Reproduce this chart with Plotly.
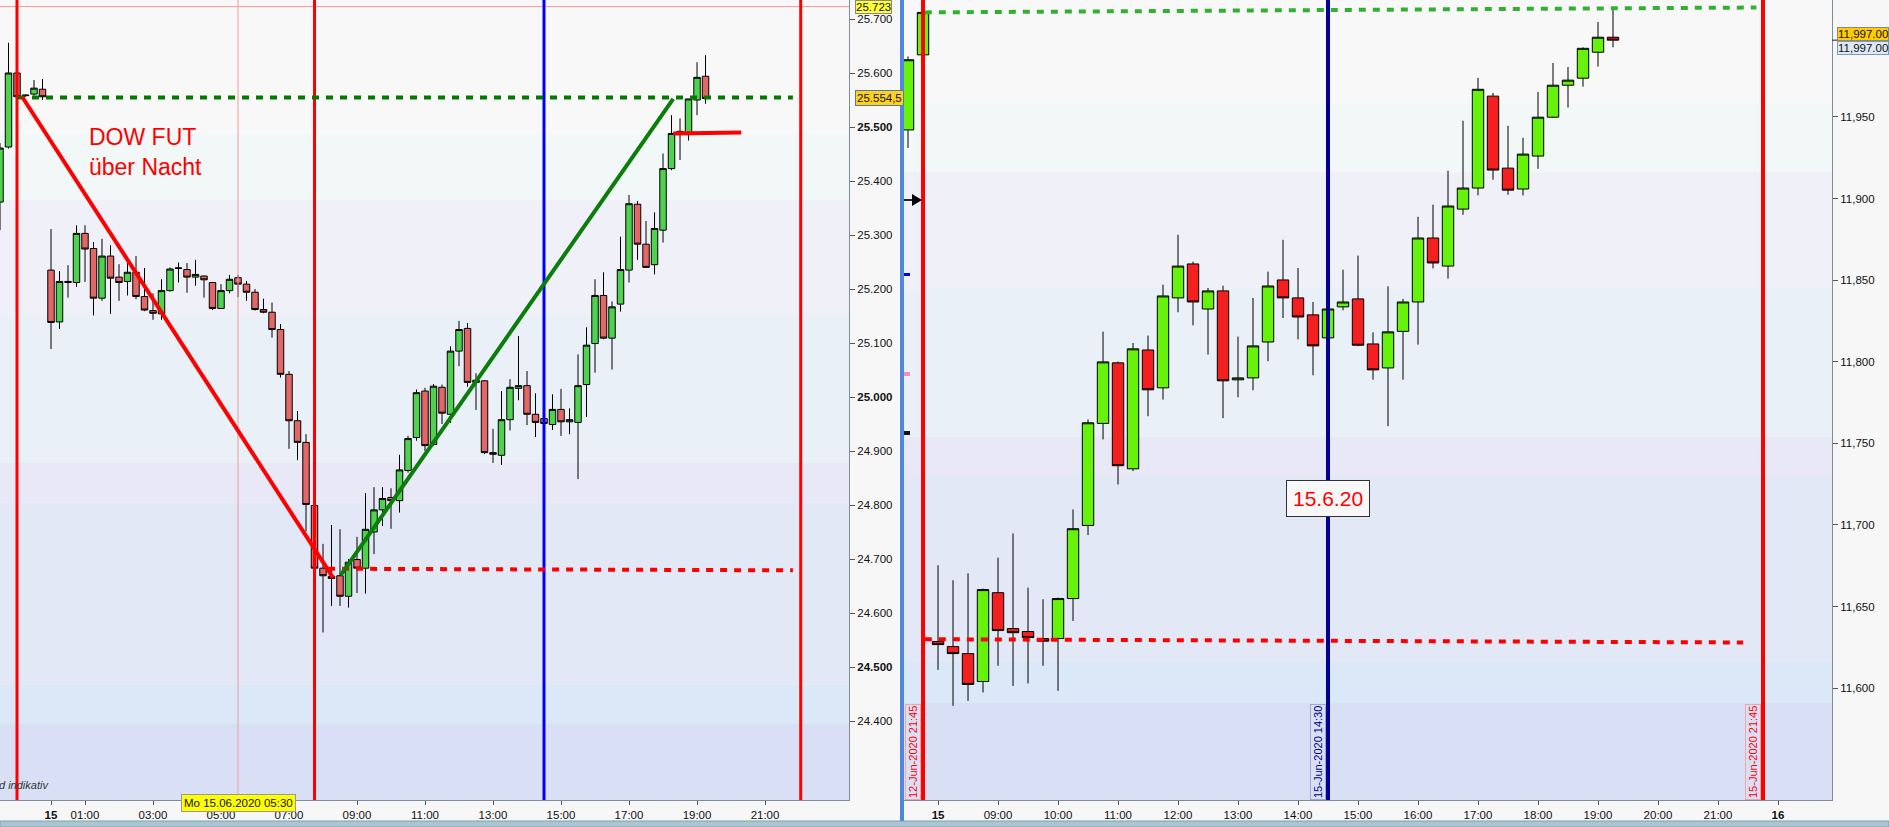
import plotly.graph_objects as go

W, H = 1889, 827

# ---------------------------------------------------------------------------
# left panel: DOW future, 15-min candles
# x = hour of Mon 15.06.2020 (weekend cut out, the 6 candles < 0 are Friday's last)
LEFT_X = [-1.5 + 0.25 * i for i in range(6)] + [0.25 * i for i in range(78)]
LEFT_OPEN = [25361, 25463, 25600, 25558, 25561, 25570,
             25235, 25139, 25212, 25212, 25303, 25275, 25183, 25261, 25222, 25214,
             25231, 25186, 25160, 25154, 25197, 25238, 25236, 25222, 25224, 25212,
             25164, 25197, 25221, 25209, 25194, 25162, 25157, 25125, 25042, 24956,
             24916, 24799, 24683, 24668, 24669, 24631, 24699, 24683, 24750, 24791,
             24814, 24808, 24864, 24925, 25011, 24912, 25018, 24968, 25085, 25127,
             25031, 25030, 24897, 24892, 24958, 25016, 25021, 24968, 24960, 24949,
             24977, 24954, 24953, 25023, 25099, 25188, 25109, 25172, 25235, 25357,
             25283, 25245, 25309, 25423, 25488, 25490, 25550, 25594]
LEFT_HIGH = [25470, 25656, 25602, 25560, 25587, 25589,
             25311, 25233, 25244, 25318, 25318, 25287, 25293, 25281, 25246, 25248,
             25261, 25239, 25192, 25218, 25240, 25249, 25248, 25254, 25225, 25213,
             25209, 25226, 25226, 25215, 25200, 25182, 25175, 25135, 25048, 24974,
             24931, 24800, 24728, 24763, 24755, 24700, 24741, 24822, 24833, 24833,
             24831, 24893, 24928, 25014, 25017, 25024, 25023, 25094, 25141, 25137,
             25044, 25031, 24941, 25011, 25033, 25113, 25048, 25007, 24962, 25005,
             25015, 24979, 25079, 25129, 25218, 25231, 25177, 25297, 25374, 25363,
             25326, 25342, 25451, 25522, 25516, 25552, 25620, 25633]
LEFT_LOW = [25309, 25460, 25554, 25556, 25558, 25550,
            25089, 25126, 25184, 25204, 25213, 25151, 25178, 25154, 25178, 25188,
            25181, 25159, 25143, 25143, 25195, 25212, 25193, 25206, 25184, 25161,
            25163, 25192, 25185, 25178, 25160, 25155, 25110, 25036, 24904, 24883,
            24751, 24680, 24564, 24613, 24613, 24610, 24637, 24636, 24709, 24761,
            24756, 24786, 24860, 24919, 24900, 24910, 24950, 24952, 25057, 25019,
            24976, 24894, 24878, 24874, 24938, 24994, 24948, 24926, 24948, 24939,
            24928, 24931, 24848, 24963, 25045, 25107, 25051, 25158, 25212, 25254,
            25240, 25227, 25286, 25420, 25439, 25475, 25522, 25543]
LEFT_CLOSE = [25461, 25600, 25556, 25559, 25572, 25556,
              25138, 25214, 25214, 25303, 25274, 25183, 25261, 25220, 25212, 25231,
              25186, 25161, 25155, 25197, 25237, 25239, 25222, 25227, 25217, 25164,
              25197, 25218, 25209, 25194, 25162, 25157, 25125, 25042, 24956, 24916,
              24801, 24683, 24669, 24664, 24631, 24694, 24683, 24755, 24791, 24812,
              24808, 24865, 24923, 25008, 24910, 25020, 24970, 25085, 25125, 25027,
              25027, 24897, 24894, 24958, 25018, 25021, 24968, 24953, 24951, 24977,
              24954, 24958, 25021, 25096, 25188, 25109, 25167, 25236, 25358, 25283,
              25240, 25312, 25423, 25488, 25492, 25552, 25592, 25553]

LEFT_XTICKS = [0, 1, 3, 5, 7, 9, 11, 13, 15, 17, 19, 21]
LEFT_XTEXT = ["<b>15</b>", "01:00", "03:00", "05:00", "07:00", "09:00", "11:00",
              "13:00", "15:00", "17:00", "19:00", "21:00"]
LEFT_YTICKS = list(range(24400, 25701, 100))

# drawings on the left chart
LEFT_RED_VLINES = [-1.0, 7.75, 22.05]
LEFT_BLUE_VLINE = 14.5
LEFT_LEVEL_HIGH = 25554.5
LEFT_LEVEL_LOW = 24682
LEFT_CROSS = (5.5, 25723)

# ---------------------------------------------------------------------------
# right panel: DAX future, 15-min candles, x = hour of day (08:00-22:00 session)
RIGHT_X = [7.5, 7.75] + [8 + 0.25 * i for i in range(46)]
RIGHT_OPEN = [11942, 11988,
              11628.6, 11625.5, 11621.2, 11604.1, 11658.5, 11636.5, 11634.7, 11630.4,
              11630.4, 11654.9, 11699.7, 11762.2, 11799.3, 11734.4, 11807.2, 11784,
              11839.1, 11859.9, 11832.3, 11843.4, 11788.9, 11790.1, 11812.1, 11850.1,
              11839.1, 11828.7, 11814.6, 11833.6, 11838.5, 11810.9, 11796.2, 11818.6,
              11836.6, 11875.8, 11858.6, 11893.5, 11906.4, 11962.7, 11918.6, 11905.8,
              11926, 11949.8, 11969.4, 11973.7, 11989.6, 11998.8]
RIGHT_HIGH = [11987, 12015,
              11675.3, 11666.1, 11670.4, 11661, 11680, 11694.8, 11661.6, 11654.5,
              11655.5, 11709.5, 11764.6, 11818.4, 11800.1, 11811.5, 11816, 11847.2,
              11877.8, 11861.3, 11845.2, 11846.6, 11815.4, 11839.1, 11855.2, 11874.7,
              11857.4, 11836.6, 11832.5, 11856.4, 11865, 11818, 11846.2, 11838.5,
              11888.8, 11896.2, 11917, 11947.6, 11973.9, 11964.7, 11944.5, 11937.2,
              11965.3, 11983, 11980.6, 11992.6, 12008.1, 12015.5]
RIGHT_LOW = [11931, 11987,
             11611.2, 11589.2, 11592.2, 11597.4, 11613.7, 11601.4, 11602.9, 11613.7,
             11598.4, 11641.2, 11693.8, 11752.4, 11724.8, 11733, 11766.6, 11776.8,
             11830.3, 11822.3, 11804.4, 11765.4, 11778.2, 11782.5, 11800.3, 11826.8,
             11813.7, 11791.7, 11814, 11831.5, 11809.5, 11789, 11760.5, 11789,
             11810.5, 11857.2, 11850.9, 11890, 11901.9, 11911.5, 11902.3, 11901.9,
             11918.2, 11949.5, 11955.7, 11968.5, 11980.8, 11992.6]
RIGHT_CLOSE = [11985, 12014,
               11626.7, 11621.2, 11602.3, 11660.4, 11635.3, 11634, 11631, 11628.8,
               11654.9, 11697.7, 11762.6, 11799.9, 11736.3, 11807.9, 11782.8, 11840.3,
               11858.6, 11836.6, 11843.4, 11788.3, 11790.1, 11809.7, 11846.4, 11839.1,
               11827.4, 11809.7, 11832.3, 11836.6, 11810.1, 11795, 11818.3, 11836.6,
               11875.8, 11860.5, 11895.4, 11906.4, 11966.9, 11917.4, 11905.1, 11927.2,
               11949.8, 11969.4, 11972.5, 11992, 11998.8, 11997]

RIGHT_XTICKS = list(range(8, 23))
RIGHT_XTEXT = ["<b>15</b>"] + ["%02d:00" % h for h in range(9, 22)] + ["<b>16</b>"]
RIGHT_YTICKS = list(range(11600, 11951, 50))

RIGHT_RED_VLINES = [7.75, 21.75]
RIGHT_BLUE_VLINE = 14.5
RIGHT_LAST = 11997.00

# background price bands (top -> bottom) and their tints
LEFT_BANDS = [25800, 25487, 25365, 25148, 24878, 24804, 24467, 24396, 24200]
RIGHT_BANDS = [12040, 11958, 11916, 11845, 11754, 11730, 11616, 11591, 11500]
BAND_COLORS = ["#f8f8f8", "#f1f8f7", "#f0f0f9", "#e9f0f8",
               "#e8e8f6", "#e2e8f6", "#dae8f7", "#d9e0f6"]

FONT = "Liberation Sans, Arial, sans-serif"


def px(x):
    return x / W


def py(y):
    return 1 - y / H


fig = go.Figure()

fig.add_trace(
    go.Candlestick(
        x=LEFT_X, open=LEFT_OPEN, high=LEFT_HIGH, low=LEFT_LOW, close=LEFT_CLOSE,
        xaxis="x", yaxis="y",
        increasing=dict(line=dict(color="black", width=1), fillcolor="#4fd34f"),
        decreasing=dict(line=dict(color="black", width=1), fillcolor="#e26767"),
        whiskerwidth=0, hoverinfo="skip",
    )
)
fig.add_trace(
    go.Candlestick(
        x=RIGHT_X, open=RIGHT_OPEN, high=RIGHT_HIGH, low=RIGHT_LOW, close=RIGHT_CLOSE,
        xaxis="x2", yaxis="y2",
        increasing=dict(line=dict(color="black", width=1), fillcolor="#66f20a"),
        decreasing=dict(line=dict(color="black", width=1), fillcolor="#f41f1f"),
        whiskerwidth=0, hoverinfo="skip",
    )
)

shapes = []
# price bands
for edges, xr, yr in [(LEFT_BANDS, "x domain", "y"), (RIGHT_BANDS, "x2 domain", "y2")]:
    for i, col in enumerate(BAND_COLORS):
        shapes.append(dict(type="rect", xref=xr, yref=yr, x0=0, x1=1,
                           y0=edges[i + 1], y1=edges[i], fillcolor=col,
                           line=dict(width=0), layer="below"))

# crosshair (left)
shapes.append(dict(type="line", xref="x", yref="y domain", x0=LEFT_CROSS[0], x1=LEFT_CROSS[0],
                   y0=0, y1=1, line=dict(color="#f29a9a", width=1)))
shapes.append(dict(type="line", xref="x domain", yref="y", x0=0, x1=1,
                   y0=LEFT_CROSS[1], y1=LEFT_CROSS[1], line=dict(color="#f29a9a", width=1)))

# vertical session lines
for v in LEFT_RED_VLINES:
    shapes.append(dict(type="line", xref="x", yref="y domain", x0=v, x1=v, y0=0, y1=1,
                       line=dict(color="#ff0000", width=3)))
shapes.append(dict(type="line", xref="x", yref="y domain", x0=LEFT_BLUE_VLINE,
                   x1=LEFT_BLUE_VLINE, y0=0, y1=1, line=dict(color="#0000ff", width=3)))
for v in RIGHT_RED_VLINES:
    shapes.append(dict(type="line", xref="x2", yref="y2 domain", x0=v, x1=v, y0=0, y1=1,
                       line=dict(color="#ff0000", width=4)))
shapes.append(dict(type="line", xref="x2", yref="y2 domain", x0=RIGHT_BLUE_VLINE,
                   x1=RIGHT_BLUE_VLINE, y0=0, y1=1, line=dict(color="#000099", width=4)))

# levels and trend lines (left)
shapes += [
    dict(type="line", xref="x", yref="y", x0=-0.97, x1=21.82,
         y0=LEFT_LEVEL_HIGH, y1=LEFT_LEVEL_HIGH,
         line=dict(color="#007a00", width=4, dash="7px,7px")),
    dict(type="line", xref="x", yref="y", x0=8.15, x1=21.82,
         y0=LEFT_LEVEL_LOW, y1=LEFT_LEVEL_LOW - 3,
         line=dict(color="#ff0000", width=4, dash="7px,7px")),
    dict(type="line", xref="x", yref="y", x0=-0.85, x1=8.3, y0=25556, y1=24665,
         line=dict(color="#ff0000", width=4)),
    dict(type="line", xref="x", yref="y", x0=8.52, x1=18.3, y0=24670, y1=25552,
         line=dict(color="#0a7d0a", width=4)),
    dict(type="line", xref="x", yref="y", x0=18.3, x1=20.3, y0=25488, y1=25490,
         line=dict(color="#ff0000", width=4)),
]
# levels (right)
shapes += [
    dict(type="line", xref="x2", yref="y2", x0=7.78, x1=21.64, y0=12014, y1=12017,
         line=dict(color="#33b033", width=4, dash="7px,7px")),
    dict(type="line", xref="x2", yref="y2", x0=7.78, x1=21.42, y0=11630, y1=11628,
         line=dict(color="#ff0000", width=4, dash="7px,7px")),
]

# panel separator, bottom strip, markers at right panel edge
shapes += [
    dict(type="rect", xref="paper", yref="paper", x0=px(900), x1=px(904), y0=0, y1=1,
         fillcolor="#4f86e0", line=dict(width=0)),
    dict(type="rect", xref="paper", yref="paper", x0=0, x1=1, y0=0, y1=py(821),
         fillcolor="#a9c6d2", line=dict(color="#7f9faf", width=1)),
    dict(type="line", xref="paper", yref="paper", x0=px(904), x1=px(913), y0=py(200), y1=py(200),
         line=dict(color="#222", width=2)),
    dict(type="path", xref="paper", yref="paper",
         path="M %f,%f L %f,%f L %f,%f Z" % (px(912), py(194), px(922), py(200), px(912), py(206)),
         fillcolor="black", line=dict(width=0)),
    dict(type="rect", xref="paper", yref="paper", x0=px(904), x1=px(910), y0=py(276), y1=py(273),
         fillcolor="#0000ff", line=dict(width=0)),
    dict(type="rect", xref="paper", yref="paper", x0=px(904), x1=px(910), y0=py(376), y1=py(372),
         fillcolor="#ff8ab8", line=dict(width=0)),
    dict(type="rect", xref="paper", yref="paper", x0=px(904), x1=px(910), y0=py(435), y1=py(431),
         fillcolor="#111", line=dict(width=0)),
    dict(type="line", xref="x2 domain", yref="y2", x0=1, x1=1.007, y0=RIGHT_LAST, y1=RIGHT_LAST,
         line=dict(color="#222", width=1)),
]

small = dict(family=FONT, size=11.5, color="#111")
annotations = [
    dict(text="DOW FUT<br>über Nacht", xref="x", yref="y", x=1.06, y=25454,
         xanchor="left", yanchor="middle", align="left", showarrow=False,
         font=dict(family=FONT, size=23, color="#ff0000")),
    dict(text="15.6.20", xref="x2", yref="y2", x=RIGHT_BLUE_VLINE, y=11716, showarrow=False,
         font=dict(family=FONT, size=21, color="#ff0000"), bgcolor="#f8f8f8",
         bordercolor="#333", borderwidth=1, borderpad=6),
    dict(text="12-Jun-2020 21:45", xref="x2", yref="y2 domain", x=7.75, y=0, textangle=-90,
         xanchor="right", yanchor="bottom", xshift=-2, showarrow=False,
         font=dict(family=FONT, size=11, color="#ff0000"),
         bordercolor="#f2a6a6", borderwidth=1, borderpad=1),
    dict(text="15-Jun-2020 14:30", xref="x2", yref="y2 domain", x=14.5, y=0, textangle=-90,
         xanchor="right", yanchor="bottom", xshift=-2, showarrow=False,
         font=dict(family=FONT, size=11, color="#000080"),
         bordercolor="#a6a6d6", borderwidth=1, borderpad=1),
    dict(text="15-Jun-2020 21:45", xref="x2", yref="y2 domain", x=21.75, y=0, textangle=-90,
         xanchor="right", yanchor="bottom", xshift=-2, showarrow=False,
         font=dict(family=FONT, size=11, color="#ff0000"),
         bordercolor="#f2a6a6", borderwidth=1, borderpad=1),
    dict(text="Mo 15.06.2020 05:30", xref="x", yref="paper", x=LEFT_CROSS[0], y=py(812),
         showarrow=False, font=small, bgcolor="#ffff00", bordercolor="#999",
         borderwidth=1, borderpad=2),
    dict(text="<i>d indikativ</i>", xref="paper", yref="paper", x=0, y=py(793),
         xanchor="left", xshift=-3, showarrow=False,
         font=dict(family=FONT, size=11, color="#333")),
    dict(text="25.723", xref="paper", yref="y", x=px(855), y=LEFT_CROSS[1], xanchor="left",
         showarrow=False, font=small, bgcolor="#ffff33", bordercolor="#888",
         borderwidth=1, borderpad=0),
    dict(text="25.554,5", xref="paper", yref="y", x=px(855), y=LEFT_LEVEL_HIGH, xanchor="left",
         showarrow=False, font=small, bgcolor="#ffd21a", bordercolor="#5577aa",
         borderwidth=1, borderpad=1),
    dict(text="11,997.00", xref="paper", yref="y2", x=px(1837), y=RIGHT_LAST, yshift=6,
         xanchor="left", showarrow=False, font=small, bgcolor="#ffcc00",
         bordercolor="#888", borderwidth=1, borderpad=0),
    dict(text="11,997.00", xref="paper", yref="y2", x=px(1837), y=RIGHT_LAST, yshift=-8,
         xanchor="left", showarrow=False, font=small, bgcolor="#dfe8f5",
         bordercolor="#7a9ab8", borderwidth=1, borderpad=0),
]

axis_common = dict(showgrid=False, zeroline=False, showline=True, linecolor="#7f8c99",
                   linewidth=1, ticks="outside", tickcolor="#555", tickfont=small)

left_ytext = [("<b>%s</b>" if v % 500 == 0 else "%s") % f"{v:,}".replace(",", ".")
              for v in LEFT_YTICKS]
right_ytext = [f"{v:,}" for v in RIGHT_YTICKS]

fig.update_layout(
    width=W, height=H,
    margin=dict(l=0, r=0, t=0, b=0),
    paper_bgcolor="#f7f7f7", plot_bgcolor="#f8f8f8",
    showlegend=False,
    boxgap=0.24, boxgroupgap=0,
    font=dict(family=FONT),
    xaxis=dict(domain=[0, px(849)], range=[-1.5, 23.47], anchor="y",
               tickvals=LEFT_XTICKS, ticktext=LEFT_XTEXT, ticklen=4,
               rangeslider=dict(visible=False), **axis_common),
    yaxis=dict(domain=[27 / H, 1], range=[24253.7, 25735.2], anchor="x", side="right",
               tickvals=LEFT_YTICKS, ticktext=left_ytext, ticklen=5, **axis_common),
    xaxis2=dict(domain=[px(904), px(1832)], range=[7.433, 22.9], anchor="y2",
                tickvals=RIGHT_XTICKS, ticktext=RIGHT_XTEXT, ticklen=4,
                rangeslider=dict(visible=False), **axis_common),
    yaxis2=dict(domain=[27 / H, 1], range=[11531.5, 12021.6], anchor="x2", side="right",
                tickvals=RIGHT_YTICKS, ticktext=right_ytext, ticklen=5, **axis_common),
    shapes=shapes,
    annotations=annotations,
)

fig.write_html("out.html", config={"displayModeBar": False},
               post_script="document.body.style.margin='0';")
